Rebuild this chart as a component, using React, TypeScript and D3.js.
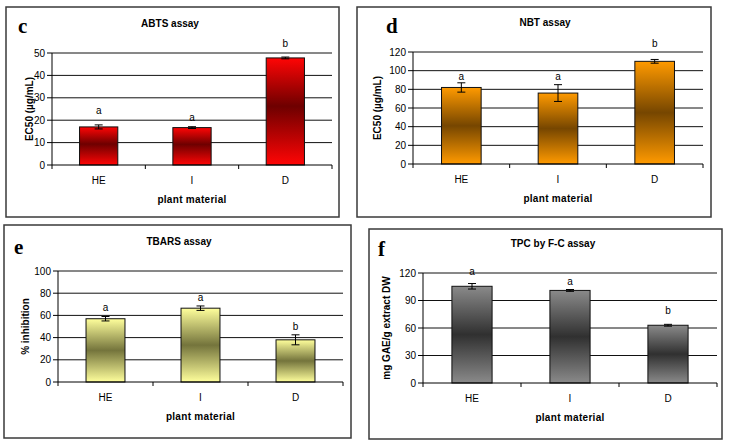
import React from "react";
import * as d3 from "d3";

const categories = ["HE", "I", "D"];

const abtsValues = [17.0, 16.7, 47.8];
const abtsErrors = [0.9, 0.4, 0.4];
const abtsLetters = ["a", "a", "b"];
const abtsLetterY = [22.8, 19.6, 52.7];
const abtsTicks = [0, 10, 20, 30, 40, 50];

const nbtValues = [82, 76, 110];
const nbtErrors = [5, 9, 2];
const nbtLetters = ["a", "a", "b"];
const nbtLetterY = [90, 90, 125];
const nbtTicks = [0, 20, 40, 60, 80, 100, 120];

const tbarsValues = [57, 66.5, 38];
const tbarsErrors = [2, 2, 4.5];
const tbarsLetters = ["a", "a", "b"];
const tbarsLetterY = [64, 73, 47];
const tbarsTicks = [0, 20, 40, 60, 80, 100];

const tpcValues = [105.5, 101, 63];
const tpcErrors = [3, 1, 1];
const tpcLetters = ["a", "a", "b"];
const tpcLetterY = [118, 107, 75];
const tpcTicks = [0, 30, 60, 90, 120];

type PanelCfg = {
  id: string;
  tag: string;
  title: string;
  yTitle: string;
  values: number[];
  errors: number[];
  letters: string[];
  letterY: number[];
  ticks: number[];
  box: [number, number, number, number];
  plot: [number, number, number, number];
  titleX: number;
  tagX: number;
  tagY: number;
  yTitleX: number;
  edge: string;
  mid: string;
  midOffset: number;
};

const panels: PanelCfg[] = [
  {
    id: "c", tag: "c", title: "ABTS assay", yTitle: "EC50 (µg/mL)",
    values: abtsValues, errors: abtsErrors, letters: abtsLetters, letterY: abtsLetterY, ticks: abtsTicks,
    box: [6, 7, 339, 217], plot: [52, 53, 332, 165], titleX: 170, tagX: 18, tagY: 33, yTitleX: 33,
    edge: "#ff0505", mid: "#6e0000", midOffset: 0.45,
  },
  {
    id: "d", tag: "d", title: "NBT assay", yTitle: "EC50 (µg/mL)",
    values: nbtValues, errors: nbtErrors, letters: nbtLetters, letterY: nbtLetterY, ticks: nbtTicks,
    box: [357, 7, 711, 217], plot: [413, 52, 703, 164], titleX: 545, tagX: 386, tagY: 33, yTitleX: 381,
    edge: "#ff9a00", mid: "#764600", midOffset: 0.5,
  },
  {
    id: "e", tag: "e", title: "TBARS assay", yTitle: "% inhibition",
    values: tbarsValues, errors: tbarsErrors, letters: tbarsLetters, letterY: tbarsLetterY, ticks: tbarsTicks,
    box: [4, 225, 351, 438], plot: [58, 271, 343, 382], titleX: 179, tagX: 14, tagY: 254, yTitleX: 29,
    edge: "#ffff9c", mid: "#74743c", midOffset: 0.5,
  },
  {
    id: "f", tag: "f", title: "TPC by F-C assay", yTitle: "mg GAE/g extract DW",
    values: tpcValues, errors: tpcErrors, letters: tpcLetters, letterY: tpcLetterY, ticks: tpcTicks,
    box: [369, 229, 722, 439], plot: [423, 273, 717, 383], titleX: 553, tagX: 378, tagY: 256, yTitleX: 390,
    edge: "#8a8a8a", mid: "#303030", midOffset: 0.5,
  },
];

const FONT = "'Liberation Sans', Arial, sans-serif";

function Panel({ p }: { p: PanelCfg }) {
  const [l, t, r, b] = p.plot;
  const y = d3.scaleLinear().domain([0, p.ticks[p.ticks.length - 1]]).range([b, t]);
  const x = d3.scaleBand<string>().domain(categories).range([l, r]).paddingInner(0.59).paddingOuter(0.295);
  const outer = d3.scaleBand<string>().domain(categories).range([l, r]);
  const gid = `grad-${p.id}`;
  const boundaries = [l, ...categories.map((c) => (outer(c) as number) + outer.bandwidth())];
  return (
    <g>
      <defs>
        <linearGradient id={gid} x1="0" y1="0" x2="0" y2="1">
          <stop offset="0" stopColor={p.edge} />
          <stop offset={p.midOffset} stopColor={p.mid} />
          <stop offset="1" stopColor={p.edge} />
        </linearGradient>
      </defs>
      <rect x={p.box[0]} y={p.box[1]} width={p.box[2] - p.box[0]} height={p.box[3] - p.box[1]}
        fill="#fff" stroke="#3a3a3a" strokeWidth={1.5} />
      <text x={p.tagX} y={p.tagY} fontFamily="'Liberation Serif', 'Times New Roman', serif" fontWeight="bold" fontSize={21}>{p.tag}</text>
      <text x={p.titleX} y={t - 26} textAnchor="middle" fontFamily={FONT} fontWeight="bold" fontSize={10}>{p.title}</text>
      {p.ticks.slice(1).map((v) => (
        <line key={`g${v}`} x1={l} x2={r} y1={y(v)} y2={y(v)} stroke="#111" strokeWidth={1} />
      ))}
      {categories.map((c, i) => {
        const bx = x(c) as number;
        const bw = x.bandwidth();
        const cx = bx + bw / 2;
        const v = p.values[i];
        const e = p.errors[i];
        return (
          <g key={c}>
            <rect x={bx} y={y(v)} width={bw} height={b - y(v)} fill={`url(#${gid})`} stroke="#111" strokeWidth={1} />
            <line x1={cx} x2={cx} y1={y(v + e)} y2={y(v - e)} stroke="#000" strokeWidth={1} />
            <line x1={cx - 4} x2={cx + 4} y1={y(v + e)} y2={y(v + e)} stroke="#000" strokeWidth={1} />
            <line x1={cx - 4} x2={cx + 4} y1={y(v - e)} y2={y(v - e)} stroke="#000" strokeWidth={1} />
            <text x={cx} y={y(p.letterY[i])} textAnchor="middle" fontFamily={FONT} fontSize={10}>{p.letters[i]}</text>
            <text x={(outer(c) as number) + outer.bandwidth() / 2} y={b + 19} textAnchor="middle" fontFamily={FONT} fontSize={10}>{c}</text>
          </g>
        );
      })}
      <line x1={l} x2={l} y1={t} y2={b} stroke="#000" strokeWidth={1} />
      <line x1={l} x2={r} y1={b} y2={b} stroke="#000" strokeWidth={1} />
      {p.ticks.map((v) => (
        <g key={`t${v}`}>
          <line x1={l - 5} x2={l} y1={y(v)} y2={y(v)} stroke="#000" strokeWidth={1} />
          <text x={l - 7} y={y(v) + 3.5} textAnchor="end" fontFamily={FONT} fontSize={10}>{v}</text>
        </g>
      ))}
      {boundaries.map((bx, i) => (
        <line key={`xb${i}`} x1={bx} x2={bx} y1={b} y2={b + 4} stroke="#000" strokeWidth={1} />
      ))}
      <text x={(l + r) / 2} y={b + 38} textAnchor="middle" fontFamily={FONT} fontWeight="bold" fontSize={10} letterSpacing={0.3}>plant material</text>
      <text transform={`translate(${p.yTitleX},${(t + b) / 2}) rotate(-90)`} textAnchor="middle"
        fontFamily={FONT} fontWeight="bold" fontSize={10}>{p.yTitle}</text>
    </g>
  );
}

export default function App() {
  return (
    <svg width={733} height={441} style={{ position: "absolute", left: 0, top: 0, background: "#fff" }}>
      <rect x={0} y={0} width={733} height={441} fill="#fff" />
      {panels.map((p) => (
        <Panel key={p.id} p={p} />
      ))}
    </svg>
  );
}
